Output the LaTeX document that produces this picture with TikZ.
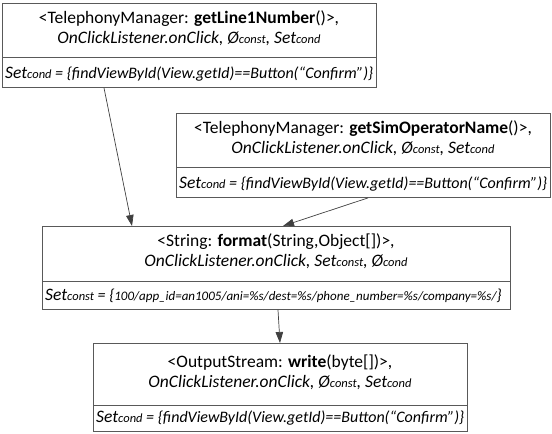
\documentclass[tikz,border=0pt]{standalone}
\usepackage{fontspec}
\setmainfont{Carlito}
\usetikzlibrary{arrows.meta,calc}
\newcommand{\sml}[1]{{\fontsize{12.5}{13}\selectfont #1}}
\newcommand{\tny}[1]{{\fontsize{13}{14}\selectfont #1}}
\newcommand{\bdy}[1]{{\fontsize{16}{18}\selectfont #1}}
\begin{document}
\begin{tikzpicture}[x=1pt,y=-1pt,
  box/.style={draw=black!65, line width=0.9pt, inner sep=0pt, anchor=north west},
  sep/.style={draw=black!65, line width=0.9pt},
  ln/.style={inner sep=0pt, anchor=base, font=\fontsize{17.5}{20}\selectfont},
  setln/.style={inner sep=0pt, anchor=base west, font=\fontsize{17.5}{20}\selectfont},
  conn/.style={draw=black!75, line width=0.7pt, -{Triangle[length=11pt,width=7.5pt]}}
]
\useasboundingbox (0,0) rectangle (552,434);
% box 1
\node[box, minimum width=374pt, minimum height=84pt] (b1) at (2,3) {};
\draw[sep] ($(b1.north west)+(0,54)$) -- ($(b1.north east)+(0,54)$);
\node[ln] (t1a) at (189,23) {<TelephonyManager: \textbf{getLine1Number}()>,};
\node[ln] (t1b) at (189,43) {\itshape OnClickListener.onClick, Ø\sml{const}, Set\sml{cond}};
\node[setln] (t1c) at (5,78) {\itshape Set\sml{cond}\bdy{ = \{findViewById(View.getId)==Button(“Confirm”)\}}};
% box 2
\node[box, minimum width=374pt, minimum height=84pt] (b2) at (176,113) {};
\draw[sep] ($(b2.north west)+(0,54)$) -- ($(b2.north east)+(0,54)$);
\node[ln] (t2a) at (363,133) {<TelephonyManager: \textbf{getSimOperatorName}()>,};
\node[ln] (t2b) at (363,153) {\itshape OnClickListener.onClick, Ø\sml{const}, Set\sml{cond}};
\node[setln] (t2c) at (179,188) {\itshape Set\sml{cond}\bdy{ = \{findViewById(View.getId)==Button(“Confirm”)\}}};
% box 3
\node[box, minimum width=468pt, minimum height=83pt] (b3) at (42,226) {};
\draw[sep] ($(b3.north west)+(0,55)$) -- ($(b3.north east)+(0,55)$);
\node[ln] (t3a) at (276,246) {<String: \textbf{format}(String,Object[])>,};
\node[ln] (t3b) at (276,266) {\itshape OnClickListener.onClick, Set\sml{const}, Ø\sml{cond}};
\node[setln] (t3c) at (45,300) {\itshape Set\sml{const}\bdy{ = \{\tny{100/app\_id=an1005/ani=\%s/dest=\%s/phone\_number=\%s/company=\%s/}\}}};
% box 4
\node[box, minimum width=374pt, minimum height=88pt] (b4) at (93,343) {};
\draw[sep] ($(b4.north west)+(0,62)$) -- ($(b4.north east)+(0,62)$);
\node[ln] (t4a) at (280,367) {<OutputStream: \textbf{write}(byte[])>,};
\node[ln] (t4b) at (280,387) {\itshape OnClickListener.onClick, Ø\sml{const}, Set\sml{cond}};
\node[setln] (t4c) at (96,422) {\itshape Set\sml{cond}\bdy{ = \{findViewById(View.getId)==Button(“Confirm”)\}}};
% connectors
\coordinate (s1) at ($(b1.south west)+(102,0)$);
\coordinate (e1) at ($(b3.north west)+(90,0)$);
\coordinate (s2) at ($(b2.south west)+(192,0)$);
\coordinate (e2) at ($(b3.north west)+(241,0)$);
\coordinate (s3) at ($(b3.south west)+(236,0)$);
\coordinate (e3) at ($(b4.north west)+(187,0)$);
\draw[conn] (s1) -- (e1);
\draw[conn] (s2) -- (e2);
\draw[conn] (s3) -- (e3);
\end{tikzpicture}
\end{document}
